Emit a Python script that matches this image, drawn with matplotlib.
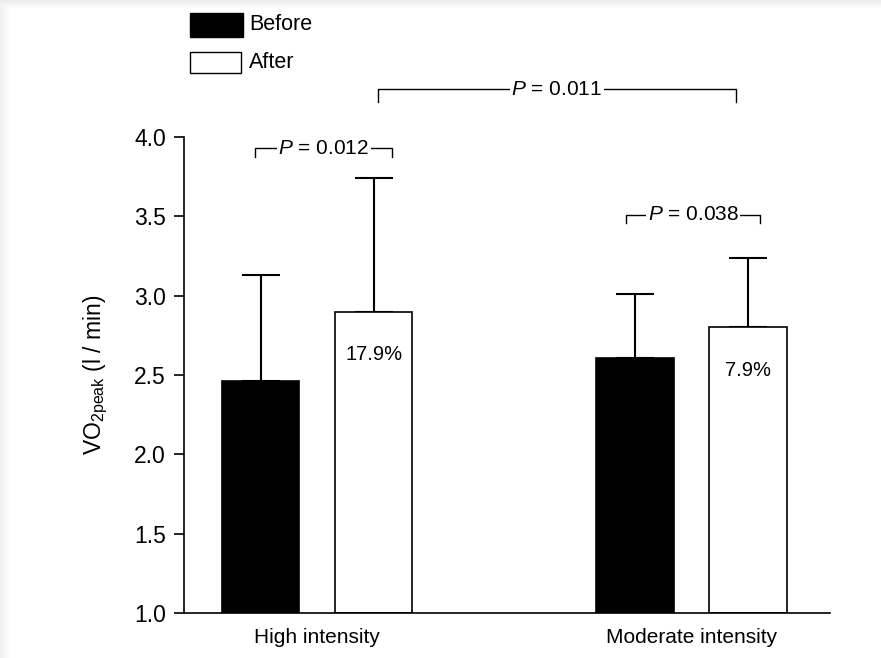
import matplotlib
matplotlib.use("Agg")
import matplotlib.pyplot as plt
import numpy as np
from matplotlib.patches import Rectangle

# data
groups = ["High intensity", "Moderate intensity"]
before = [2.46, 2.61]
before_err = [0.67, 0.40]
after = [2.90, 2.80]
after_err = [0.84, 0.44]
changes = ["17.9%", "7.9%"]
p_values = ["0.012", "0.038", "0.011"]

plt.rcParams['font.family'] = ['Liberation Sans', 'DejaVu Sans']
plt.rcParams['mathtext.fontset'] = 'custom'
plt.rcParams['mathtext.rm'] = 'Liberation Sans'
plt.rcParams['mathtext.it'] = 'Liberation Sans:italic'

W, H = 881, 658
fig = plt.figure(figsize=(W / 100, H / 100), dpi=100)
fig.patch.set_facecolor("white")

# light grey screenshot shadow on top and left
shade = fig.add_axes([0, 0, 1, 1], zorder=-5)
shade.set_axis_off()
img = np.ones((H, W))
top = np.linspace(0.92, 1.0, 9)
for i, v in enumerate(top):
    img[i, :] = np.minimum(img[i, :], v)
left = np.linspace(0.94, 1.0, 12)
for j, v in enumerate(left):
    img[:, j] = np.minimum(img[:, j], v)
shade.imshow(img, cmap="gray", vmin=0, vmax=1, aspect="auto",
             extent=[0, 1, 0, 1], interpolation="nearest")
shade.set_xlim(0, 1)
shade.set_ylim(0, 1)

ax = fig.add_axes([184 / W, (H - 613) / H, 646 / W, 476 / H])
ax.set_facecolor("none")

bw = 0.206
off = 0.151
xs = list(range(len(groups)))
xb = [x - off for x in xs]
xa = [x + off for x in xs]

ax.bar(xb, [b - 1 for b in before], bottom=1, width=bw, color="black",
       edgecolor="black", linewidth=1.2, zorder=2)
ax.bar(xa, [a - 1 for a in after], bottom=1, width=bw, color="white",
       edgecolor="black", linewidth=1.2, zorder=2)

# upper error bars only
for x, v, e in zip(xb + xa, before + after, before_err + after_err):
    ax.errorbar(x, v, yerr=[[0], [e]], fmt="none", ecolor="black",
                elinewidth=1.5, capsize=14, capthick=1.5, zorder=1)

for x, v, t in zip(xa, after, changes):
    ax.text(x, v - 0.27, t, ha="center", va="center", fontsize=14.5, color="black")

ax.set_xlim(-0.356, 1.37)
ax.set_ylim(1.0, 4.0)
ax.set_yticks([1.0, 1.5, 2.0, 2.5, 3.0, 3.5, 4.0])
ax.set_yticklabels(["%.1f" % t for t in ax.get_yticks()], fontsize=16.5)
ax.set_xticks(xs)
ax.set_xticklabels(groups, fontsize=15)
ax.tick_params(axis="x", length=0, pad=11)
ax.tick_params(axis="y", direction="out", length=7, width=1.2, pad=6)
for s in ["top", "right"]:
    ax.spines[s].set_visible(False)
for s in ["left", "bottom"]:
    ax.spines[s].set_linewidth(1.2)

ax.set_ylabel(r"VO$_{\mathrm{2peak}}$ (l / min)", fontsize=16.5, labelpad=17)

# significance brackets: x0, x1, y line, drop
brackets = [(-0.166, 0.2005, 3.93, 0.055), (0.824, 1.184, 3.51, 0.05),
            (0.163, 1.118, 4.30, 0.08)]
for (x0, x1, y, d), p in zip(brackets, p_values):
    ax.plot([x0, x0, x1, x1], [y - d, y, y, y - d], color="black", lw=1.0,
            clip_on=False, zorder=3)
    ax.text((x0 + x1) / 2, y, r"$\it{P}$ = " + p, ha="center", va="center",
            fontsize=15, zorder=4, clip_on=False,
            bbox=dict(facecolor="white", edgecolor="none", pad=1.0))

# legend drawn by hand
fig.patches.append(Rectangle((190 / W, 1 - 37 / H), 53 / W, 24 / H,
                             transform=fig.transFigure, facecolor="black",
                             edgecolor="black", lw=1))
fig.patches.append(Rectangle((190 / W, 1 - 73 / H), 51 / W, 21 / H,
                             transform=fig.transFigure, facecolor="white",
                             edgecolor="black", lw=1))
fig.text(249 / W, 1 - 25 / H, "Before", ha="left", va="center", fontsize=15.5)
fig.text(249 / W, 1 - 62 / H, "After", ha="left", va="center", fontsize=15.5)

fig.savefig("out.png", dpi=100)
